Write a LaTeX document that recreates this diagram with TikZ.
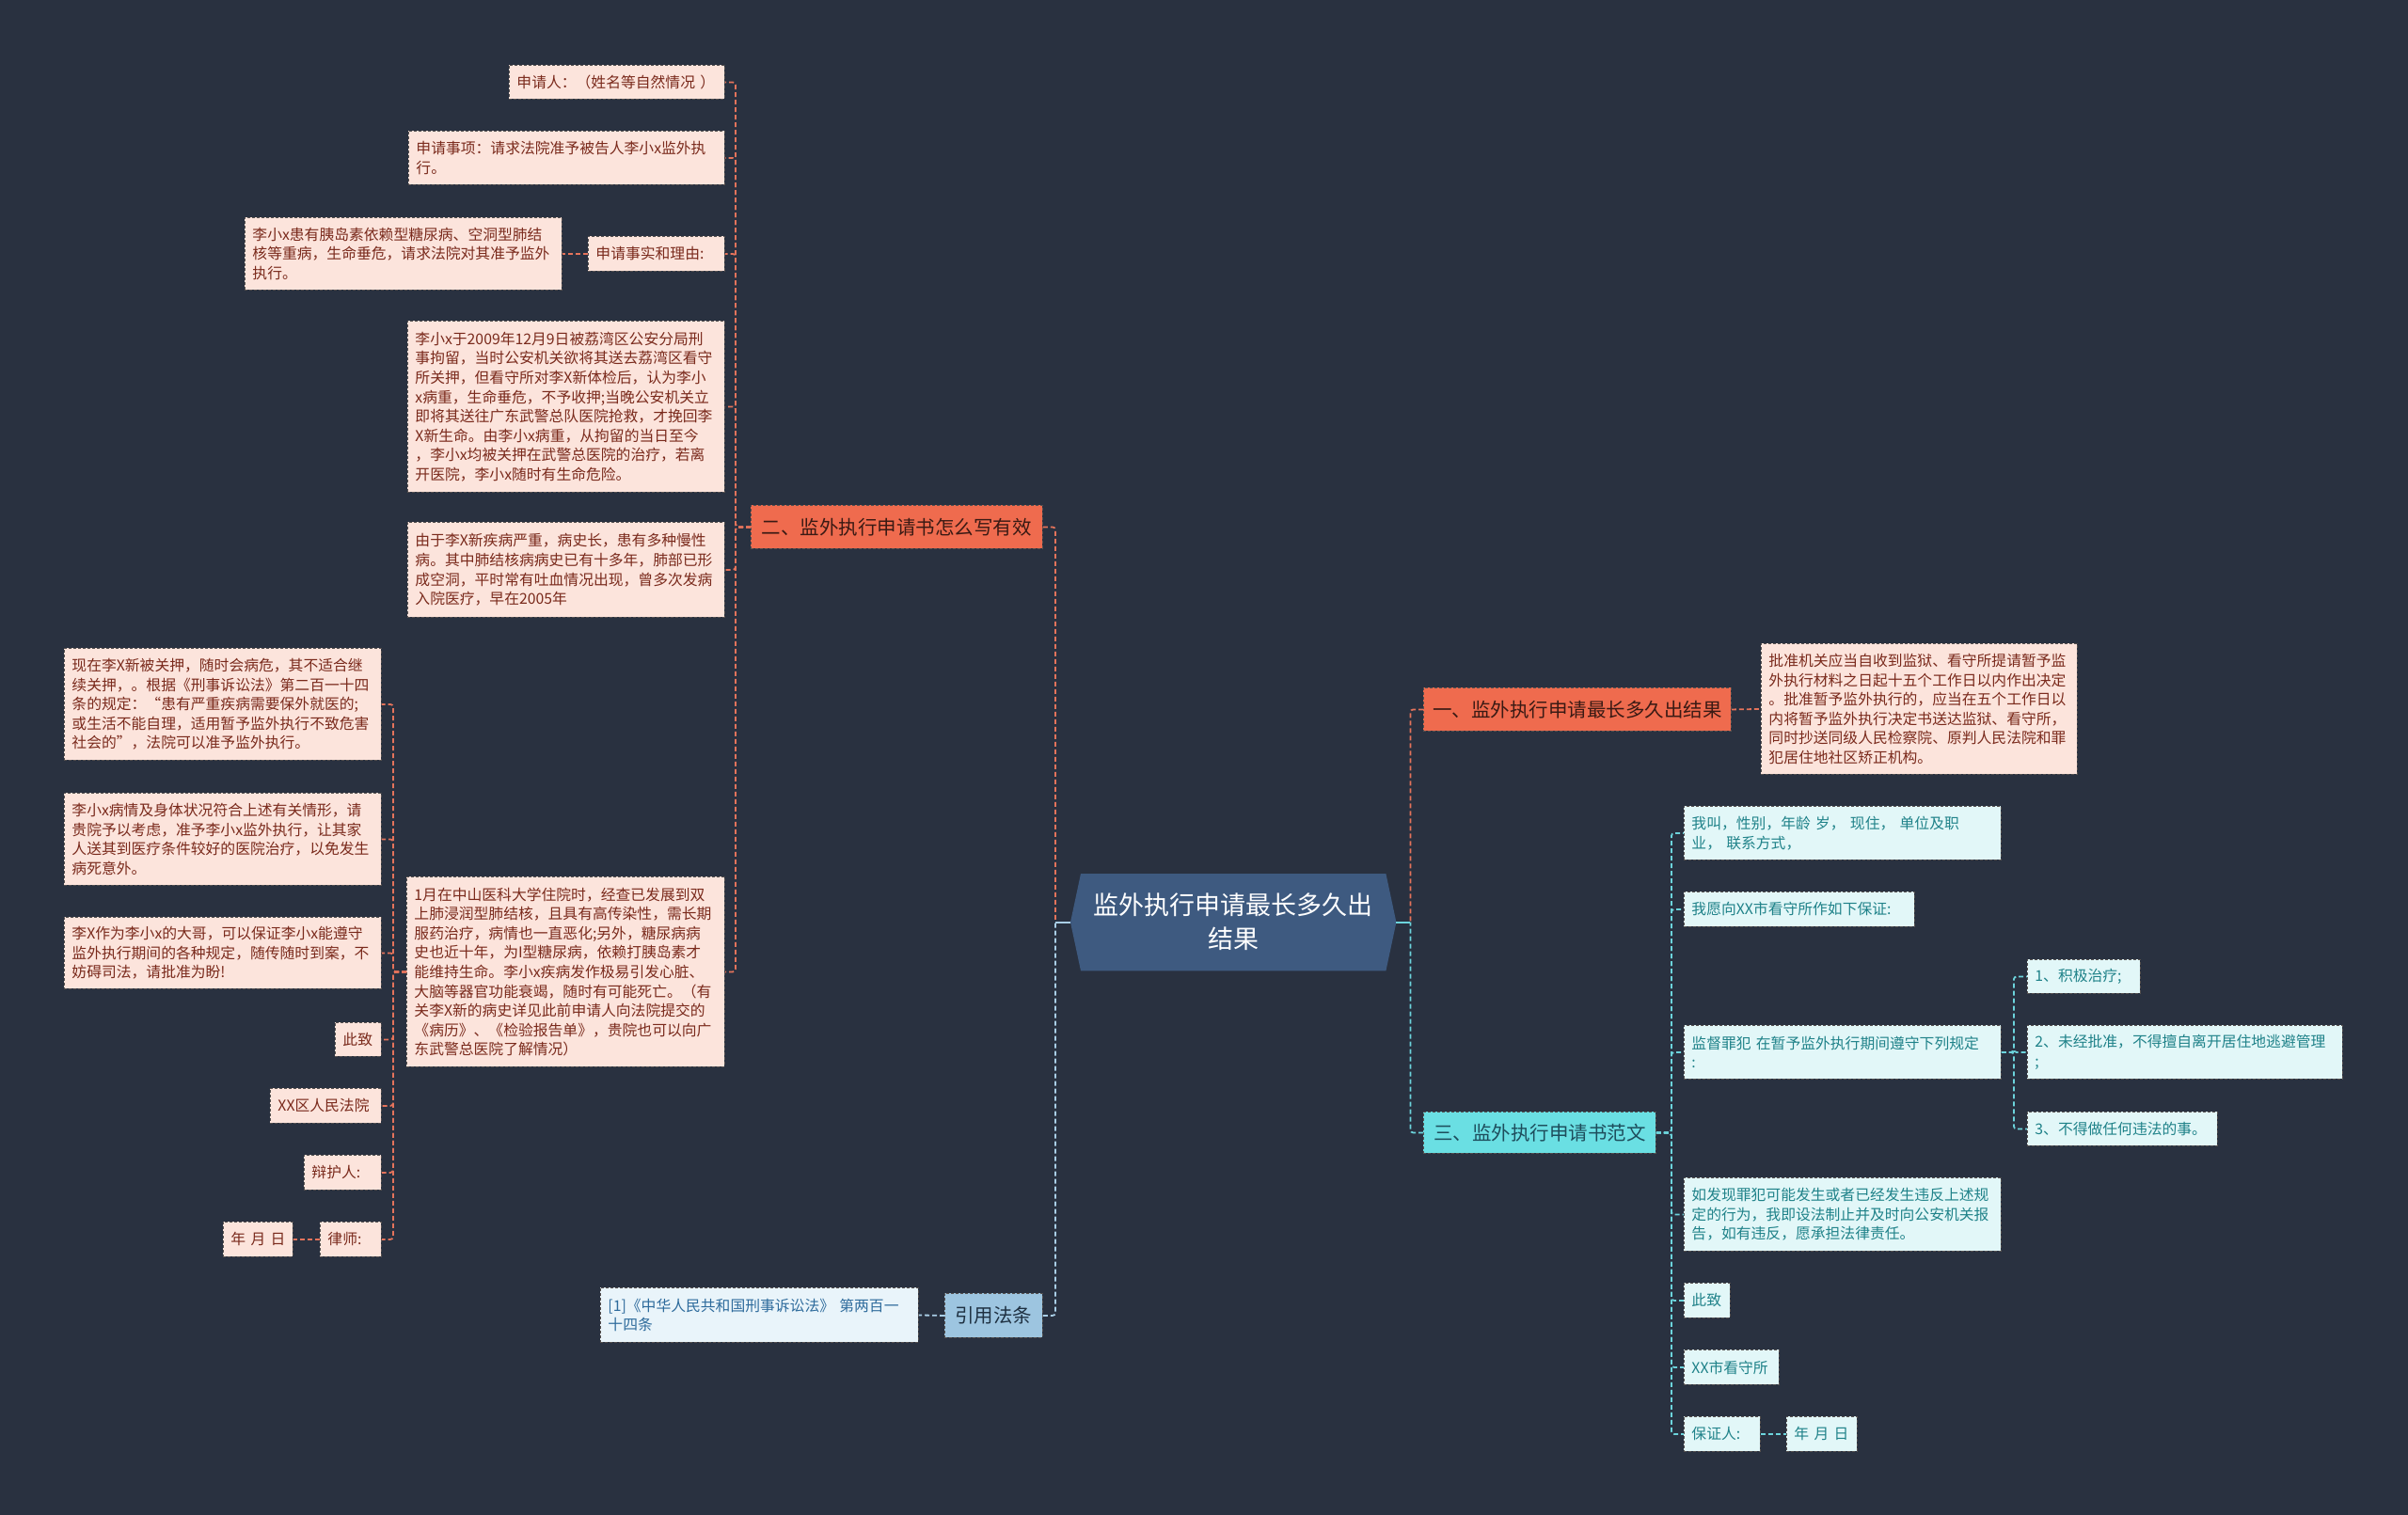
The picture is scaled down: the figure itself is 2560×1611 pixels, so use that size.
\documentclass[tikz,border=0pt]{standalone}
\usepackage{fontspec}
\setmainfont{Noto Sans CJK SC}
\usetikzlibrary{backgrounds}
\definecolor{bgc}{HTML}{293140}
\definecolor{orgfill}{HTML}{EF6B4E}
\definecolor{orgtext}{HTML}{3A1A14}
\definecolor{orgline}{HTML}{E4735B}
\definecolor{pkfill}{HTML}{FCE4DC}
\definecolor{pktext}{HTML}{7A2A1C}
\definecolor{boxline}{HTML}{55504F}
\definecolor{cyfill}{HTML}{6ADFE3}
\definecolor{cytext}{HTML}{1E4D5C}
\definecolor{cyline}{HTML}{6CD4DC}
\definecolor{lcfill}{HTML}{E2F7F8}
\definecolor{lctext}{HTML}{1F8289}
\definecolor{blfill}{HTML}{9DC5E0}
\definecolor{bltext}{HTML}{1F3142}
\definecolor{blline}{HTML}{A9CEE6}
\definecolor{lbfill}{HTML}{E9F4FA}
\definecolor{lbtext}{HTML}{2E6B9C}
\definecolor{rootfill}{HTML}{3E5A80}
\begin{document}
\begin{tikzpicture}[x=1pt,y=-1pt,
  box/.style={anchor=north west, inner xsep=8pt, inner ysep=0pt, align=left, draw=boxline, dashed, dash pattern=on 3pt off 2pt, line width=0.9pt, font=\fontsize{15.8}{20.6}\selectfont},
  pk/.style={box, fill=pkfill, text=pktext},
  lc/.style={box, fill=lcfill, text=lctext},
  lb/.style={box, fill=lbfill, text=lbtext},
  br/.style={anchor=north west, inner sep=0pt, align=center, draw=boxline, dashed, dash pattern=on 3pt off 2pt, line width=0.9pt, font=\fontsize{20.5}{26}\selectfont},
  orgbr/.style={br, fill=orgfill, text=orgtext},
  cybr/.style={br, fill=cyfill, text=cytext},
  blbr/.style={br, fill=blfill, text=bltext},
  link/.style={dashed, dash pattern=on 5pt off 3pt, line width=1.8pt, rounded corners=3pt},
  ol/.style={link, draw=orgline},
  cl/.style={link, draw=cyline},
  bl/.style={link, draw=blline},
  rootn/.style={anchor=north west, minimum width=346pt, minimum height=103pt, inner sep=0pt, align=center, text=white, font=\fontsize{27}{36}\selectfont}
]
\useasboundingbox (0,0) rectangle (2560,1611);

% root
\node[rootn] (root) at (1138,929) {监外执行申请最长多久出\\结果};

% branches
\node[orgbr, minimum width=310pt, minimum height=46pt] (b2) at (798,537) {二、监外执行申请书怎么写有效};
\node[orgbr, minimum width=327pt, minimum height=46pt] (b1) at (1513,731) {一、监外执行申请最长多久出结果};
\node[cybr, minimum width=247pt, minimum height=44pt] (b3) at (1513,1182) {三、监外执行申请书范文};
\node[blbr, minimum width=104pt, minimum height=47pt] (b4) at (1004,1375) {引用法条};

% left branch children
\node[pk, text width=213pt, minimum height=36pt] (a1) at (541,69) {申请人：（姓名等自然情况 ）};
\node[pk, text width=320pt, minimum height=57pt] (a2) at (434,139) {申请事项：请求法院准予被告人李小x监外执\\行。};
\node[pk, text width=129pt, minimum height=37pt] (a3) at (625,251) {申请事实和理由:};
\node[pk, text width=321pt, minimum height=77pt] (a3a) at (260,231) {李小x患有胰岛素依赖型糖尿病、空洞型肺结\\核等重病，生命垂危，请求法院对其准予监外\\执行。};
\node[pk, text width=321pt, minimum height=182pt] (a4) at (433,341) {李小x于2009年12月9日被荔湾区公安分局刑\\事拘留，当时公安机关欲将其送去荔湾区看守\\所关押，但看守所对李X新体检后，认为李小\\x病重，生命垂危，不予收押;当晚公安机关立\\即将其送往广东武警总队医院抢救，才挽回李\\X新生命。由李小x病重，从拘留的当日至今\\，李小x均被关押在武警总医院的治疗，若离\\开医院，李小x随时有生命危险。};
\node[pk, text width=321pt, minimum height=101pt] (a5) at (433,555) {由于李X新疾病严重，病史长，患有多种慢性\\病。其中肺结核病病史已有十多年，肺部已形\\成空洞，平时常有吐血情况出现，曾多次发病\\入院医疗，早在2005年};
\node[pk, text width=322pt, minimum height=202pt] (a6) at (432,932) {1月在中山医科大学住院时，经查已发展到双\\上肺浸润型肺结核，且具有高传染性，需长期\\服药治疗，病情也一直恶化;另外，糖尿病病\\史也近十年，为I型糖尿病，依赖打胰岛素才\\能维持生命。李小x疾病发作极易引发心脏、\\大脑等器官功能衰竭，随时有可能死亡。（有\\关李X新的病史详见此前申请人向法院提交的\\《病历》、《检验报告单》，贵院也可以向广\\东武警总医院了解情况）};

\node[pk, text width=321pt, minimum height=119pt] (k1) at (68,689) {现在李X新被关押，随时会病危，其不适合继\\续关押，。根据《刑事诉讼法》第二百一十四\\条的规定：“患有严重疾病需要保外就医的;\\或生活不能自理，适用暂予监外执行不致危害\\社会的”，法院可以准予监外执行。};
\node[pk, text width=321pt, minimum height=98pt] (k2) at (68,843) {李小x病情及身体状况符合上述有关情形，请\\贵院予以考虑，准予李小x监外执行，让其家\\人送其到医疗条件较好的医院治疗，以免发生\\病死意外。};
\node[pk, text width=321pt, minimum height=76pt] (k3) at (68,975) {李X作为李小x的大哥，可以保证李小x能遵守\\监外执行期间的各种规定，随传随时到案，不\\妨碍司法，请批准为盼!};
\node[pk, text width=33pt, minimum height=36pt] (k4) at (356,1087) {此致};
\node[pk, text width=102pt, minimum height=37pt] (k5) at (287,1157) {XX区人民法院};
\node[pk, text width=66pt, minimum height=37pt] (k6) at (323,1228) {辩护人:};
\node[pk, text width=49pt, minimum height=37pt] (k7) at (340,1299) {律师:};
\node[pk, text width=58pt, minimum height=37pt] (k8) at (237,1299) {年 月 日};

% reference leaf
\node[lb, text width=322pt, minimum height=58pt] (rl) at (638,1369) {[1]《中华人民共和国刑事诉讼法》 第两百一\\十四条};

% right branch one
\node[pk, text width=320pt, minimum height=139pt] (r1) at (1872,684) {批准机关应当自收到监狱、看守所提请暂予监\\外执行材料之日起十五个工作日以内作出决定\\。批准暂予监外执行的，应当在五个工作日以\\内将暂予监外执行决定书送达监狱、看守所，\\同时抄送同级人民检察院、原判人民法院和罪\\犯居住地社区矫正机构。};

% right branch three
\node[lc, text width=321pt, minimum height=57pt] (s1) at (1790,857) {我叫，性别，年龄 岁， 现住， 单位及职\\业， 联系方式，};
\node[lc, text width=229pt, minimum height=37pt] (s2) at (1790,948) {我愿向XX市看守所作如下保证:};
\node[lc, text width=321pt, minimum height=57pt] (s3) at (1790,1090) {监督罪犯 在暂予监外执行期间遵守下列规定\\:};
\node[lc, text width=104pt, minimum height=36pt] (d1) at (2155,1020) {1、积极治疗;};
\node[lc, text width=319pt, minimum height=57pt] (d2) at (2155,1090) {2、未经批准，不得擅自离开居住地逃避管理\\;};
\node[lc, text width=186pt, minimum height=36pt] (d3) at (2155,1182) {3、不得做任何违法的事。};
\node[lc, text width=321pt, minimum height=78pt] (s4) at (1790,1252) {如发现罪犯可能发生或者已经发生违反上述规\\定的行为，我即设法制止并及时向公安机关报\\告，如有违反，愿承担法律责任。};
\node[lc, text width=33pt, minimum height=37pt] (s5) at (1790,1364) {此致};
\node[lc, text width=85pt, minimum height=37pt] (s6) at (1790,1435) {XX市看守所};
\node[lc, text width=65pt, minimum height=37pt] (s7) at (1790,1506) {保证人:};
\node[lc, text width=59pt, minimum height=37pt] (s8) at (1899,1506) {年 月 日};

% junctions
\coordinate (lj) at ([xshift=-16pt]root.west);
\coordinate (rj) at ([xshift=15pt]root.east);

% connectors root
\draw[ol] (b2.east) -| (lj);
\draw[bl] (b4.east) -| (lj);
\draw[line width=2.2pt, draw=blline] (lj) -- (root.west);
\draw[ol] (b1.west) -| (rj);
\draw[cl] (b3.west) -| (rj);
\draw[line width=2.2pt, draw=cyline] (root.east) -- (rj);

% left branch connectors
\foreach \nd in {a1,a2,a3,a4,a5,a6} \draw[ol] (b2.west) -- ++(-16,0) |- (\nd.east);
\draw[ol] (a3.west) -- (a3a.east);
\foreach \nd in {k1,k2,k3,k4,k5,k6,k7} \draw[ol] (a6.west) -- ++(-14,0) |- (\nd.east);
\draw[ol] (k7.west) -- (k8.east);
\draw[bl] (b4.west) -- (rl.east);

% right connectors
\draw[ol] (b1.east) -- (r1.west);
\foreach \nd in {s1,s2,s3,s4,s5,s6,s7} \draw[cl] (b3.east) -- ++(16,0) |- (\nd.west);
\foreach \nd in {d1,d2,d3} \draw[cl] (s3.east) -- ++(13,0) |- (\nd.west);
\draw[cl] (s7.east) -- (s8.west);

\begin{scope}[on background layer]
\fill[bgc] (0,0) rectangle (2560,1611);
\fill[rootfill] ([xshift=11pt]root.north west) -- ([xshift=-11pt]root.north east) -- (root.east) -- ([xshift=-11pt]root.south east) -- ([xshift=11pt]root.south west) -- (root.west) -- cycle;
\end{scope}
\end{tikzpicture}
\end{document}
